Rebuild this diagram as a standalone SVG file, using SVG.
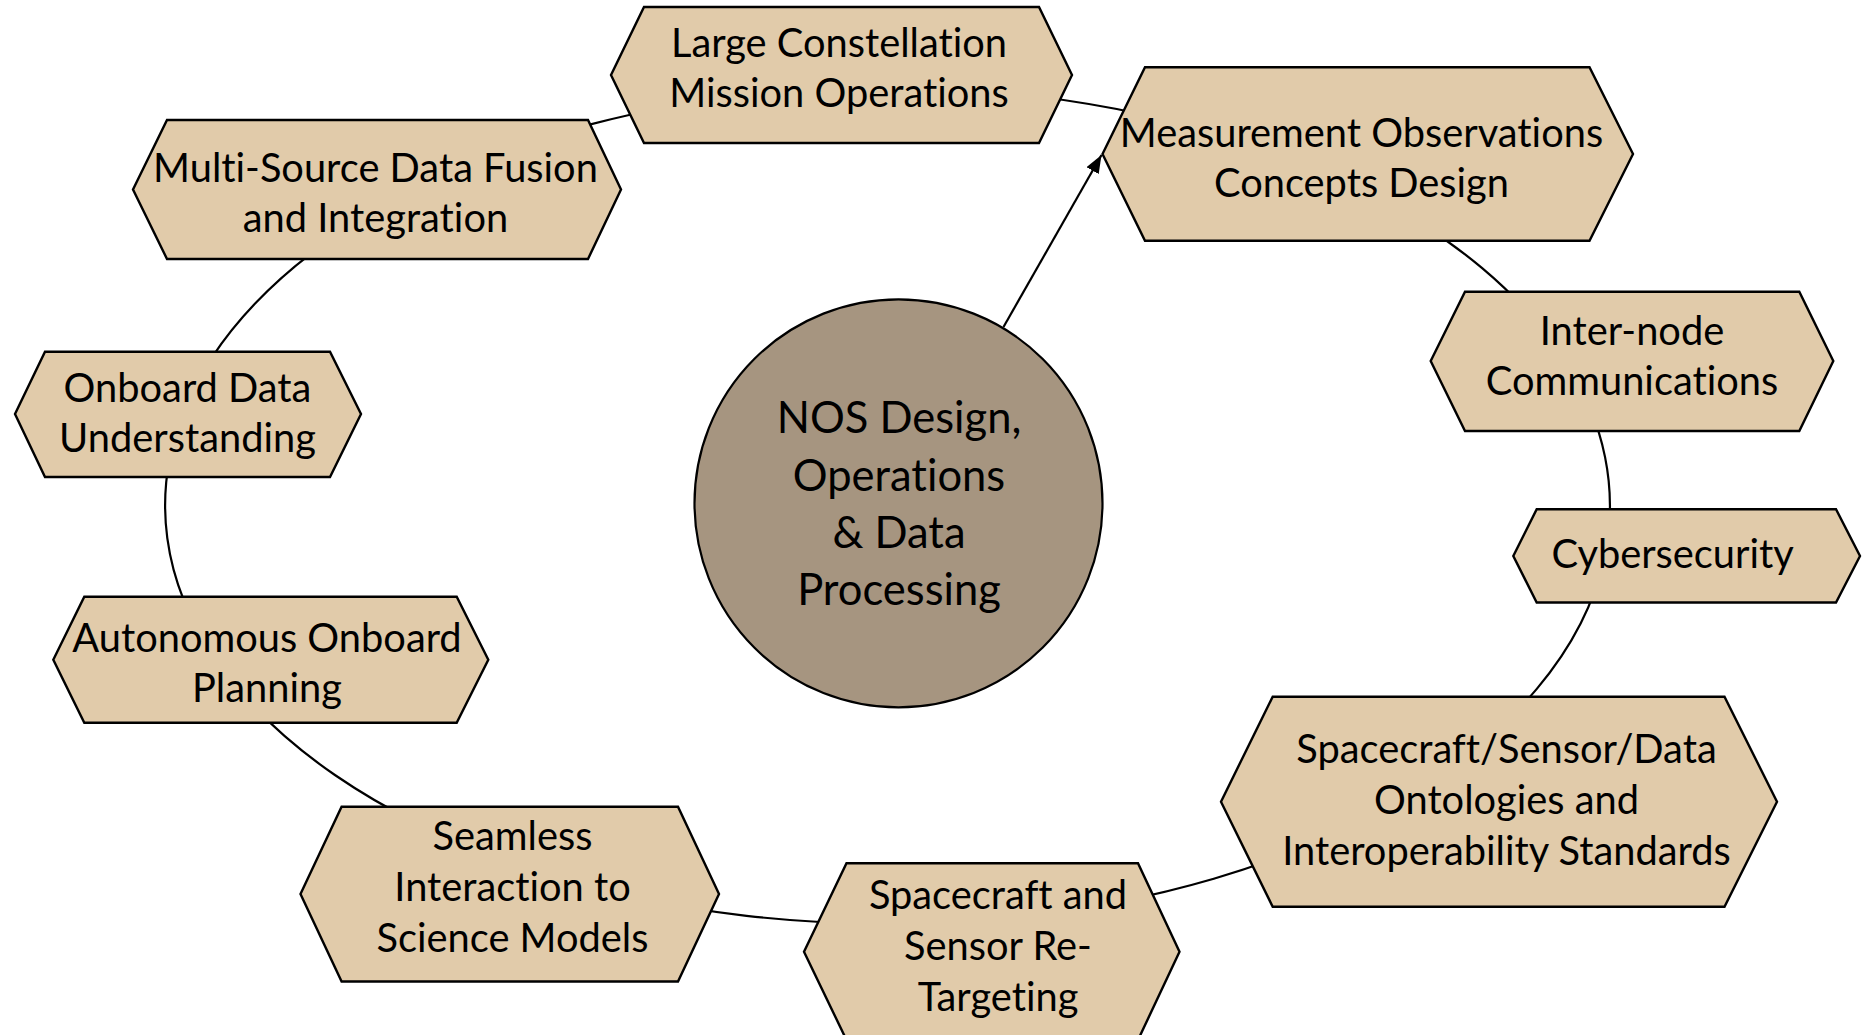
<svg xmlns="http://www.w3.org/2000/svg" width="1863" height="1035" viewBox="0 0 1863 1035">
  <defs>
    <style>
      .hex { fill: #E1CBAA; stroke: #000; stroke-width: 2.4; stroke-linejoin: miter; }
      .hub { fill: #A69580; stroke: #000; stroke-width: 2.2; }
      .lbl { font-family: Lato, "Liberation Sans", sans-serif; font-size: 39.8px; fill: #000; text-anchor: middle; font-variant-ligatures: none; }
      .hubl { font-family: Lato, "Liberation Sans", sans-serif; font-size: 43.5px; fill: #000; text-anchor: middle; font-variant-ligatures: none; }
      .conn { fill: none; stroke: #000; stroke-width: 2.2; }
    </style>
    <marker id="arrow" markerUnits="userSpaceOnUse" markerWidth="20" markerHeight="14" refX="18" refY="7" orient="auto">
      <path d="M0,0 L18,7 L0,14 z" fill="#000"/>
    </marker>
  </defs>
  <rect width="1863" height="1035" fill="#fff"/>

  <g id="connectors">
    <path class="conn" d="M837.1 88.4 A722.4 418.2 0 0 1 1361.5 190.0"/>
    <path class="conn" d="M1361.5 190.0 A722.4 418.2 0 0 1 1565.5 361.2"/>
    <path class="conn" d="M1565.5 361.2 A722.4 418.2 0 0 1 1604.7 555.8"/>
    <path class="conn" d="M1604.7 555.8 A722.4 418.2 0 0 1 1397.4 801.8"/>
    <path class="conn" d="M1397.4 801.8 A722.4 418.2 0 0 1 998.0 918.9"/>
    <path class="conn" d="M998.0 918.9 A722.4 418.2 0 0 1 512.2 863.0"/>
    <path class="conn" d="M512.2 863.0 A722.4 418.2 0 0 1 215.8 659.5"/>
    <path class="conn" d="M215.8 659.5 A722.4 418.2 0 0 1 182.8 413.7"/>
    <path class="conn" d="M182.8 413.7 A722.4 418.2 0 0 1 377.6 209.4"/>
    <path class="conn" d="M377.6 209.4 A722.4 418.2 0 0 1 837.1 88.4"/>
  </g>

  <g id="node-hub">
    <circle class="hub" cx="898.5" cy="503.3" r="204"/>
    <text class="hubl" x="899" y="433">NOS Design,</text>
    <text class="hubl" x="899" y="490.5">Operations</text>
    <text class="hubl" x="899" y="547.5">&amp; Data</text>
    <text class="hubl" x="899" y="605">Processing</text>
  </g>

  <g id="arrow-connector">
    <line class="conn" x1="1003.5" y1="327" x2="1101.5" y2="155" marker-end="url(#arrow)"/>
  </g>

  <g id="node-large-constellation">
    <polygon class="hex" points="611,75 644,7 1039,7 1072,75 1039,143 644,143"/>
    <text class="lbl" x="839" y="57">Large Constellation</text>
    <text class="lbl" x="839" y="107">Mission Operations</text>
  </g>

  <g id="node-measurement">
    <polygon class="hex" points="1102.5,154 1145,67.3 1589.5,67.3 1633,154 1589.5,240.7 1145,240.7"/>
    <text class="lbl" x="1361.5" y="147.3">Measurement Observations</text>
    <text class="lbl" x="1361.5" y="197.3">Concepts Design</text>
  </g>

  <g id="node-internode">
    <polygon class="hex" points="1430.7,361 1465,291.7 1799.3,291.7 1833.3,361 1799.3,431 1465,431"/>
    <text class="lbl" x="1632" y="345">Inter-node</text>
    <text class="lbl" x="1632" y="395">Communications</text>
  </g>

  <g id="node-cybersecurity">
    <polygon class="hex" points="1513.3,556 1536.7,509.3 1836,509.3 1860,556 1836,602.5 1536.7,602.5"/>
    <text class="lbl" x="1672.7" y="568.3">Cybersecurity</text>
  </g>

  <g id="node-ontologies">
    <polygon class="hex" points="1221,801.7 1272.7,696.7 1724.5,696.7 1777,801.7 1724.5,906.7 1272.7,906.7"/>
    <text class="lbl" x="1506.5" y="763">Spacecraft/Sensor/Data</text>
    <text class="lbl" x="1506.5" y="814">Ontologies and</text>
    <text class="lbl" x="1506.5" y="865">Interoperability Standards</text>
  </g>

  <g id="node-retargeting">
    <polygon class="hex" points="804,951.7 846.5,863.3 1138,863.3 1179.5,951.7 1138,1040 846.5,1040"/>
    <text class="lbl" x="998" y="908.5">Spacecraft and</text>
    <text class="lbl" x="998" y="959.5">Sensor Re-</text>
    <text class="lbl" x="998" y="1010.5">Targeting</text>
  </g>

  <g id="node-seamless">
    <polygon class="hex" points="300.5,894 341.6,806.7 678,806.7 719,894 678,981.5 341.6,981.5"/>
    <text class="lbl" x="512.5" y="850">Seamless</text>
    <text class="lbl" x="512.5" y="901">Interaction to</text>
    <text class="lbl" x="512.5" y="952">Science Models</text>
  </g>

  <g id="node-autonomous">
    <polygon class="hex" points="53.3,659.7 84.3,596.7 456.7,596.7 488.3,659.7 456.7,722.7 84.3,722.7"/>
    <text class="lbl" x="267" y="651.7">Autonomous Onboard</text>
    <text class="lbl" x="267" y="701.7">Planning</text>
  </g>

  <g id="node-onboard-data">
    <polygon class="hex" points="15,414 45,351.7 330,351.7 361,414 330,477 45,477"/>
    <text class="lbl" x="187.5" y="401.7">Onboard Data</text>
    <text class="lbl" x="187.5" y="451.7">Understanding</text>
  </g>

  <g id="node-multisource">
    <polygon class="hex" points="133,189.5 167,120 588,120 621,189.5 588,259 167,259"/>
    <text class="lbl" x="375.5" y="181.7">Multi-Source Data Fusion</text>
    <text class="lbl" x="375.5" y="231.7">and Integration</text>
  </g>
</svg>
